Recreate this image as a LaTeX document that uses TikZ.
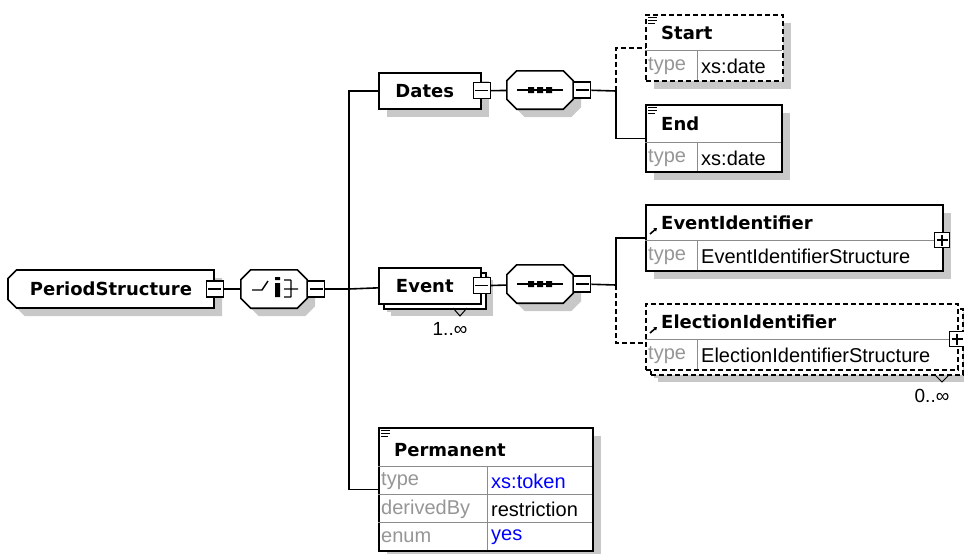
\documentclass[tikz,border=0pt]{standalone}
\usepackage{fontspec}
\setmainfont{Liberation Sans}
\newfontfamily\titlefont{DejaVu Sans}
\usetikzlibrary{shapes.misc,shadows,positioning,arrows.meta}

\definecolor{shadowgray}{RGB}{200,200,200}
\definecolor{keygray}{RGB}{150,150,150}
\definecolor{rowgray}{RGB}{140,140,140}
\definecolor{valblue}{RGB}{0,0,255}

\tikzset{
  shd/.style={drop shadow={shadow xshift=8pt,shadow yshift=-8pt,fill=shadowgray,opacity=1}},
  outline/.style={draw,line width=1.6pt,fill=white,rectangle,inner sep=0pt,anchor=north west,shd},
  optional/.style={dash pattern=on 5pt off 3pt},
  ttl/.style={font=\titlefont\bfseries\fontsize{18}{20}\selectfont,anchor=west,inner sep=0pt},
  val/.style={font=\fontsize{20}{22}\selectfont,anchor=west,inner sep=0pt},
  key/.style={val,text=keygray},
  link/.style={line width=1.6pt},
  row/.style={draw=rowgray,line width=1pt},
  toggle/.style={draw,fill=white,line width=1.2pt,minimum width=17pt,minimum height=16pt,inner sep=0pt},
  minus/.style={toggle,path picture={\draw[line width=1.2pt]
      ([xshift=2pt]path picture bounding box.west) -- ([xshift=-2pt]path picture bounding box.east);}},
  plus/.style={toggle,minimum width=15pt,minimum height=15pt,path picture={\draw[line width=1.2pt]
      ([xshift=2pt]path picture bounding box.west) -- ([xshift=-2pt]path picture bounding box.east)
      ([yshift=-2pt]path picture bounding box.north) -- ([yshift=2pt]path picture bounding box.south);}},
  compositor/.style={rectangle,minimum width=66pt,minimum height=38pt,inner sep=0pt},
  occurs/.style={val,anchor=center,font=\fontsize{19}{21}\selectfont},
}

% octagon frame round a compositor node
\newcommand{\compframe}[1]{%
  \filldraw[fill=white,line width=1.6pt,shd]
    ([xshift=10pt]#1.north west) -- ([xshift=-10pt]#1.north east) -- ([yshift=-10pt]#1.north east)
    -- ([yshift=10pt]#1.south east) -- ([xshift=-10pt]#1.south east) -- ([xshift=10pt]#1.south west)
    -- ([yshift=10pt]#1.south west) -- ([yshift=-10pt]#1.north west) -- cycle;}

\begin{document}
\begin{tikzpicture}[x=1pt,y=-1pt]
\useasboundingbox[fill=white] (0,0) rectangle (964,554);

% root element and choice
\node[outline,chamfered rectangle,chamfered rectangle corners={north west,south west},
      chamfered rectangle xsep=5pt,anchor=center,minimum width=206pt,minimum height=38pt,
      font=\titlefont\bfseries\fontsize{18}{20}\selectfont] (root) at (111,289) {PeriodStructure\hspace{30pt}};
\node[minus] (rootminus) at (root.east) {};
\node[compositor] (choice) at (274,289) {};
\compframe{choice}
\node[minus,right=0pt of choice] (choiceminus) {};
\draw[line width=1.4pt,shift={(choice.center)}]
  (-22,1) -- (-12,1) -- (-6,-8)
  (17,-9) -- (17,8) (10,-9) -- (17,-9) (10,0) -- (17,0) (10,8) -- (17,8) (17,0) -- (24,0);
\fill[shift={(choice.center)}] (1,-6) rectangle (6,8) (1,-12) rectangle (6,-9);
\coordinate (bus) at (349,289);

% Dates branch
\node[outline,minimum width=102pt,minimum height=36pt,font=\titlefont\bfseries\fontsize{18}{20}\selectfont]
  (dates) at (378,72) {\hspace{-10pt}Dates};
\node[minus] (datesminus) at (dates.east) {};
\node[compositor] (seqdates) at (540,90) {};
\compframe{seqdates}
\node[minus,right=0pt of seqdates] (seqdatesminus) {};
\draw[line width=1.4pt,shift={(seqdates.center)}] (-23,0) -- (23,0);
\fill[shift={(seqdates.center)}] (-12,-3) rectangle (-6,3) (-3,-3) rectangle (3,3) (6,-3) rectangle (12,3);
\coordinate (bus1) at (616,91);

\node[outline,optional,minimum width=137pt,minimum height=66pt] (start) at (645,14) {};
\draw[row] (645,50) -- (782,50) (697,50) -- (697,80);
\draw[line width=1pt] (648,17) -- (657,17) (648,20) -- (657,20) (648,23) -- (655,23);
\node[ttl] (starttitle) at (661,33) {Start};
\node[key] (starttype) at (648,66) {type};
\node[val] (startval) at (701,66) {xs:date};

\node[outline,minimum width=136pt,minimum height=67pt] (end) at (645,104) {};
\draw[row] (645,142) -- (781,142) (697,142) -- (697,171);
\draw[line width=1pt] (648,107) -- (657,107) (648,110) -- (657,110) (648,113) -- (655,113);
\node[ttl] (endtitle) at (661,124) {End};
\node[key] (endtype) at (648,158) {type};
\node[val] (endval) at (701,158) {xs:date};

% Event branch
\node[outline,minimum width=102pt,minimum height=36pt,font=\titlefont\bfseries\fontsize{18}{20}\selectfont,
      drop shadow={shadow xshift=12pt,shadow yshift=-12pt,fill=shadowgray,opacity=1},
      copy shadow={shadow xshift=5pt,shadow yshift=-5pt,draw=black,fill=white,line width=1.6pt}]
  (event) at (378,267) {\hspace{-10pt}Event};
\node[minus] (eventminus) at (event.east) {};
\draw[line width=1pt] (453,308) -- (460,316) -- (467,308);
\node[occurs] (eventocc) at (450,329) {1..∞};
\node[compositor] (seqevent) at (540,284) {};
\compframe{seqevent}
\node[minus,right=0pt of seqevent] (seqeventminus) {};
\draw[line width=1.4pt,shift={(seqevent.center)}] (-23,0) -- (23,0);
\fill[shift={(seqevent.center)}] (-12,-3) rectangle (-6,3) (-3,-3) rectangle (3,3) (6,-3) rectangle (12,3);
\coordinate (bus2) at (616,285);

\node[outline,minimum width=297pt,minimum height=66pt] (evid) at (645,204) {};
\draw[row] (645,240) -- (942,240) (697,240) -- (697,270);
\draw[line width=1.6pt,-{Triangle[length=3pt,width=4pt]}] (650,234) -- (657,228);
\node[ttl] (evidtitle) at (661,223) {EventIdentifier};
\node[key] (evidtype) at (648,256) {type};
\node[val] (evidval) at (701,256) {EventIdentifierStructure};
\node[plus] (evidplus) at (942,240) {};

\node[outline,optional,minimum width=312pt,minimum height=66pt,
      drop shadow={shadow xshift=12pt,shadow yshift=-12pt,fill=shadowgray,opacity=1},
      copy shadow={shadow xshift=5pt,shadow yshift=-5pt,draw=black,fill=white,line width=1.6pt,optional}]
  (elid) at (645,303) {};
\draw[row] (645,339) -- (957,339) (697,339) -- (697,369);
\draw[line width=1.6pt,-{Triangle[length=3pt,width=4pt]}] (650,333) -- (657,327);
\node[ttl] (elidtitle) at (661,322) {ElectionIdentifier};
\node[key] (elidtype) at (648,355) {type};
\node[val] (elidval) at (701,355) {ElectionIdentifierStructure};
\node[plus] (elidplus) at (957,339) {};
\draw[line width=1pt] (935,375) -- (942,382) -- (949,375);
\node[occurs] (elidocc) at (932,396) {0..∞};

% Permanent
\node[outline,minimum width=214pt,minimum height=123pt] (perm) at (378,427) {};
\draw[row] (378,466) -- (592,466) (378,494) -- (592,494) (378,522) -- (592,522) (487,466) -- (487,550);
\draw[line width=1pt] (381,430) -- (390,430) (381,433) -- (390,433) (381,436) -- (388,436);
\node[ttl] (permtitle) at (394,450) {Permanent};
\node[key] (permtype) at (381,481) {type};
\node[val,text=valblue] (permtypeval) at (491,481) {xs:token};
\node[key] (permderiv) at (381,509) {derivedBy};
\node[val] (permderivval) at (491,509) {restriction};
\node[key] (permenum) at (381,537) {enum};
\node[val,text=valblue] (permenumval) at (491,537) {yes};

% connectors
\draw[link] (rootminus) -- (choice);
\draw[link] (choiceminus) -- (bus);
\draw[link] (bus) |- (dates);
\draw[link] (bus) -- (event);
\draw[link] (bus) |- (perm);
\draw[link] (datesminus) -- (seqdates);
\draw[link] (seqdatesminus) -- (bus1);
\draw[link,optional] (bus1) |- (start);
\draw[link] (bus1) |- (end);
\draw[link] (eventminus) -- (seqevent);
\draw[link] (seqeventminus) -- (bus2);
\draw[link] (bus2) |- (evid);
\draw[link,optional] (bus2) |- ([yshift=-6pt]elid.west);
\end{tikzpicture}
\end{document}
